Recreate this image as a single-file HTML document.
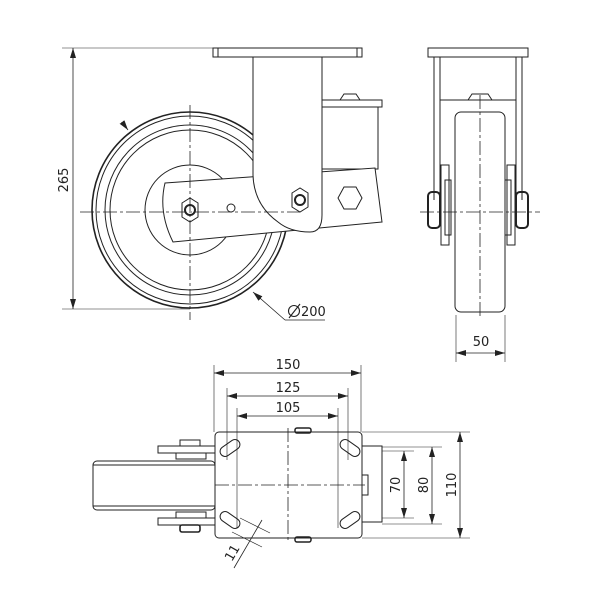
<!DOCTYPE html>
<html><head><style>body{margin:0;background:#fff}svg{display:block}text{font-family:"DejaVu Sans","Liberation Sans",sans-serif;font-size:13px;fill:#222}</style></head>
<body>
<svg width="600" height="600" viewBox="0 0 600 600" xmlns="http://www.w3.org/2000/svg">
<defs><marker id="a" markerWidth="10" markerHeight="6" refX="10" refY="3" orient="auto-start-reverse" markerUnits="userSpaceOnUse"><path d="M0,0 L10,3 L0,6" fill="#222"/></marker></defs>
<g fill="none" stroke="#222" stroke-width="1">
<!-- side view -->
<circle cx="190" cy="210" r="98" stroke-width="1.6"/>
<circle cx="190" cy="210" r="94"/>
<circle cx="190" cy="210" r="85"/>
<circle cx="190" cy="210" r="80"/>
<circle cx="190" cy="210" r="45"/>
<rect x="322" y="107" width="56" height="62" fill="#fff"/>
<rect x="322" y="100" width="60" height="7" fill="#fff"/>
<path d="M340,100 L344,94 L356,94 L360,100 Z" fill="#fff"/>
<path d="M165,183 L375,168 L382,222 L173,242 Q158,212 165,183 Z" fill="#fff"/>
<path d="M253,57 L253,175 Q254,205 278,222 Q290,232 310,232 Q322,232 322,215 L322,57 Z" fill="#fff"/>
<rect x="213" y="48" width="149" height="9" fill="#fff"/>
<line x1="218" y1="48" x2="218" y2="57"/><line x1="357" y1="48" x2="357" y2="57"/>
<polygon points="182,203 190,198 198,203 198,217 190,222 182,217" fill="#fff"/>
<circle cx="190" cy="210" r="5" stroke-width="2"/>
<polygon points="292,193 300,188 308,193 308,207 300,212 292,207" fill="#fff"/>
<circle cx="300" cy="200" r="5" stroke-width="2"/>
<polygon points="344,187 356,187 362,198 356,209 344,209 338,198" fill="#fff"/>
<circle cx="231" cy="208" r="4"/>
<g stroke-dasharray="14,3,3,3" stroke-width="0.8"><line x1="80" y1="212" x2="300" y2="212"/><line x1="190" y1="105" x2="190" y2="320"/></g>
<!-- 265 dim -->
<line x1="62" y1="48" x2="215" y2="48" stroke-width="0.6"/><line x1="62" y1="309" x2="190" y2="309" stroke-width="0.6"/>
<line x1="73" y1="48" x2="73" y2="309" marker-start="url(#a)" marker-end="url(#a)" stroke-width="0.8"/>
<line x1="122" y1="122" x2="128" y2="130" marker-end="url(#a)" stroke-width="0.8"/>
<path d="M285,320 L253,292" marker-end="url(#a)" stroke-width="0.8"/><line x1="285" y1="320" x2="325" y2="320" stroke-width="0.8"/>
<!-- front view -->
<rect x="428" y="48" width="100" height="9"/>
<line x1="434" y1="57" x2="434" y2="200"/><line x1="440" y1="57" x2="440" y2="200"/>
<line x1="516" y1="57" x2="516" y2="200"/><line x1="522" y1="57" x2="522" y2="200"/>
<line x1="440" y1="100" x2="516" y2="100"/>
<path d="M468,100 L472,94 L488,94 L492,100"/>
<rect x="455" y="112" width="50" height="200" rx="6" fill="#fff"/>
<rect x="441" y="165" width="8" height="80"/><rect x="507" y="165" width="8" height="80"/>
<rect x="445" y="180" width="6" height="55"/><rect x="505" y="180" width="6" height="55"/>
<rect x="428" y="192" width="12" height="36" rx="4" stroke-width="2"/><rect x="516" y="192" width="12" height="36" rx="4" stroke-width="2"/>
<g stroke-dasharray="14,3,3,3" stroke-width="0.8"><line x1="480" y1="95" x2="480" y2="318"/><line x1="420" y1="212" x2="540" y2="212"/></g>
<line x1="456" y1="315" x2="456" y2="362" stroke-width="0.6"/><line x1="505" y1="315" x2="505" y2="362" stroke-width="0.6"/>
<line x1="456" y1="353" x2="505" y2="353" marker-start="url(#a)" marker-end="url(#a)" stroke-width="0.8"/>
<!-- bottom view -->
<rect x="93" y="461" width="122" height="49" rx="4" fill="#fff"/>
<line x1="93" y1="465" x2="215" y2="465"/><line x1="93" y1="506" x2="215" y2="506"/>
<rect x="158" y="446" width="57" height="7"/><rect x="176" y="453" width="30" height="6"/><rect x="180" y="440" width="20" height="6"/>
<rect x="158" y="518" width="57" height="7"/><rect x="176" y="512" width="30" height="6"/><rect x="180" y="525" width="20" height="7" rx="2" stroke-width="1.6"/>
<rect x="362" y="446" width="20" height="76"/>
<rect x="362" y="475" width="6" height="20"/>
<rect x="215" y="432" width="147" height="106" rx="4" fill="#fff"/>
<rect x="295" y="428" width="16" height="5" rx="2" stroke-width="1.5"/><rect x="295" y="537" width="16" height="5" rx="2" stroke-width="1.5"/>
<g transform="translate(230,448) rotate(-35)"><rect x="-11" y="-5" width="22" height="10" rx="5"/></g>
<g transform="translate(350,448) rotate(35)"><rect x="-11" y="-5" width="22" height="10" rx="5"/></g>
<g transform="translate(230,520) rotate(35)"><rect x="-11" y="-5" width="22" height="10" rx="5"/></g>
<g transform="translate(350,520) rotate(-35)"><rect x="-11" y="-5" width="22" height="10" rx="5"/></g>
<g stroke-dasharray="14,3,3,3" stroke-width="0.8"><line x1="215" y1="485" x2="365" y2="485"/><line x1="288" y1="428" x2="288" y2="542"/></g>
<g stroke-width="0.6">
<line x1="214" y1="365" x2="214" y2="432"/><line x1="361" y1="365" x2="361" y2="432"/>
<line x1="227" y1="388" x2="227" y2="460"/><line x1="348" y1="388" x2="348" y2="460"/>
<line x1="237" y1="408" x2="237" y2="528"/><line x1="338" y1="408" x2="338" y2="528"/>
<line x1="362" y1="432" x2="470" y2="432"/><line x1="362" y1="538" x2="470" y2="538"/>
<line x1="382" y1="447" x2="442" y2="447"/><line x1="382" y1="524" x2="442" y2="524"/>
<line x1="382" y1="451" x2="414" y2="451"/><line x1="382" y1="518" x2="414" y2="518"/>
<line x1="232" y1="532" x2="262" y2="547"/><line x1="240" y1="518" x2="270" y2="533"/>
</g>
<g stroke-width="0.8">
<line x1="214" y1="373" x2="361" y2="373" marker-start="url(#a)" marker-end="url(#a)"/>
<line x1="227" y1="396" x2="348" y2="396" marker-start="url(#a)" marker-end="url(#a)"/>
<line x1="237" y1="416" x2="338" y2="416" marker-start="url(#a)" marker-end="url(#a)"/>
<line x1="460" y1="432" x2="460" y2="538" marker-start="url(#a)" marker-end="url(#a)"/>
<line x1="432" y1="447" x2="432" y2="524" marker-start="url(#a)" marker-end="url(#a)"/>
<line x1="404" y1="451" x2="404" y2="518" marker-start="url(#a)" marker-end="url(#a)"/>
<line x1="262" y1="520" x2="234" y2="568"/>
</g>
<!-- diameter symbol -->
<circle cx="294" cy="311" r="5.5" stroke-width="1.1"/>
<line x1="289" y1="318" x2="300" y2="304" stroke-width="1.1"/>
</g>
<text x="68" y="180" text-anchor="middle" transform="rotate(-90 68 180)">265</text>
<text x="301" y="316">200</text>
<text x="481" y="346" text-anchor="middle">50</text>
<text x="288" y="369" text-anchor="middle">150</text>
<text x="288" y="392" text-anchor="middle">125</text>
<text x="288" y="412" text-anchor="middle">105</text>
<text x="400" y="485" text-anchor="middle" transform="rotate(-90 400 485)">70</text>
<text x="428" y="485" text-anchor="middle" transform="rotate(-90 428 485)">80</text>
<text x="456" y="485" text-anchor="middle" transform="rotate(-90 456 485)">110</text>
<text x="236" y="555" text-anchor="middle" transform="rotate(-60 236 555)">11</text>
</svg>
</body></html>
